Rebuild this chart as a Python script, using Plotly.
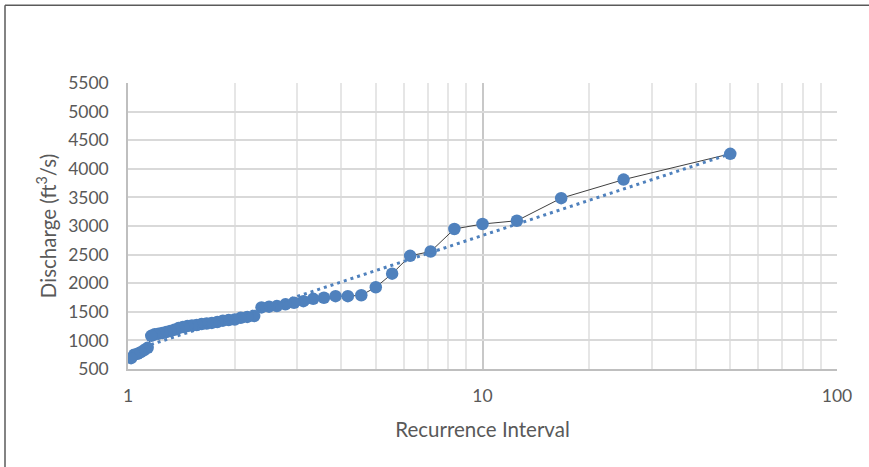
import numpy as np
import plotly.graph_objects as go

# Recurrence interval (years) for each ranked flow
recurrence_interval = [
    50.0, 25.0, 16.67, 12.5, 10.0, 8.33, 7.14, 6.25, 5.56, 5.0,
    4.55, 4.17, 3.85, 3.57, 3.33, 3.125, 2.94, 2.78, 2.63, 2.5,
    2.38, 2.27, 2.17, 2.08, 2.0, 1.923, 1.852, 1.786, 1.724, 1.667,
    1.613, 1.5625, 1.515, 1.471, 1.429, 1.389, 1.351, 1.316, 1.282, 1.25,
    1.22, 1.19, 1.163, 1.136, 1.111, 1.087, 1.064, 1.042, 1.02,
]
# Discharge (ft3/s)
discharge = [
    4262, 3811, 3486, 3092, 3035, 2948, 2554, 2479, 2167, 1929,
    1790, 1773, 1773, 1745, 1727, 1686, 1658, 1630, 1600, 1590,
    1576, 1425, 1410, 1395, 1365, 1355, 1345, 1320, 1305, 1295,
    1285, 1270, 1260, 1250, 1235, 1215, 1185, 1165, 1145, 1130,
    1118, 1108, 1080, 870, 830, 795, 765, 750, 690,
]

y_tick_vals = [500, 1000, 1500, 2000, 2500, 3000, 3500, 4000, 4500, 5000, 5500]
x_tick_vals = [1, 10, 100]
x_minor_vals = [2, 3, 4, 5, 6, 7, 8, 9, 20, 30, 40, 50, 60, 70, 80, 90]

# logarithmic trendline (least squares on ln x)
lx = np.log(np.array(recurrence_interval))
a, b = np.polyfit(lx, np.array(discharge, dtype=float), 1)
trend_x = [min(recurrence_interval), max(recurrence_interval)]
trend_y = [a * np.log(v) + b for v in trend_x]

BLUE = "#4F81BD"
TXT = "#595959"
FONT = "Lato"

fig = go.Figure()
fig.add_trace(go.Scatter(
    x=recurrence_interval, y=discharge, mode="lines+markers",
    line=dict(color="#404040", width=1),
    marker=dict(color=BLUE, size=12.5, line=dict(width=0)),
    showlegend=False, hoverinfo="x+y",
))
fig.add_trace(go.Scatter(
    x=trend_x, y=trend_y, mode="lines",
    line=dict(color=BLUE, width=3, dash="3px,4px"),
    showlegend=False, hoverinfo="skip",
))

# figure slightly wider than the window: the chart border is cropped on the right
W, H = 880, 467
L, R, T, B = 128, 43, 82.5, 97.5
pw, ph = W - L - R, H - T - B

def px_to_paper_x(px):
    return (px - L) / pw

def px_to_paper_y(py):
    return 1 - (py - T) / ph

border = dict(color="#5a5a5a", width=1.5)
fig.add_shape(type="line", xref="paper", yref="paper",
              x0=px_to_paper_x(5), x1=px_to_paper_x(5),
              y0=px_to_paper_y(H + 5), y1=px_to_paper_y(4.5), line=border)
fig.add_shape(type="line", xref="paper", yref="paper",
              x0=px_to_paper_x(5), x1=px_to_paper_x(W + 5),
              y0=px_to_paper_y(4.5), y1=px_to_paper_y(4.5), line=border)

fig.update_layout(
    width=W, height=H,
    margin=dict(l=L, r=R, t=T, b=B),
    paper_bgcolor="white", plot_bgcolor="white",
    font=dict(family=FONT, color=TXT, size=17),
    xaxis=dict(
        type="log", range=[0, 2],
        tickvals=x_tick_vals, ticktext=["1", "10", "100"],
        showgrid=True, gridcolor="#c8c8c8", gridwidth=1.5,
        minor=dict(tickvals=x_minor_vals, showgrid=True, gridcolor="#e6e6e6", gridwidth=1.5, ticks=""),
        showline=True, linecolor="#bfbfbf", linewidth=1.5,
        ticks="", zeroline=False,
        tickfont=dict(size=17.5, color=TXT, family=FONT),
        ticklabelstandoff=10,
        title=dict(text="Recurrence Interval", font=dict(size=20.5, color=TXT, family=FONT), standoff=18),
    ),
    yaxis=dict(
        range=[500, 5500], tickvals=y_tick_vals,
        showgrid=True, gridcolor="#d9d9d9", gridwidth=1.5,
        showline=True, linecolor="#bfbfbf", linewidth=1.5,
        ticks="", zeroline=False,
        tickfont=dict(size=17.5, color=TXT, family=FONT),
        ticklabelstandoff=14,
        title=dict(text="Discharge (ft<sup>3</sup>/s)", font=dict(size=20.5, color=TXT, family=FONT), standoff=6),
    ),
)

# remove the default page margin so the figure is placed at the window's corner
fig.write_html(
    "out.html",
    config={"displayModeBar": False},
    post_script="document.body.style.margin='0';document.body.style.overflow='hidden';",
)
